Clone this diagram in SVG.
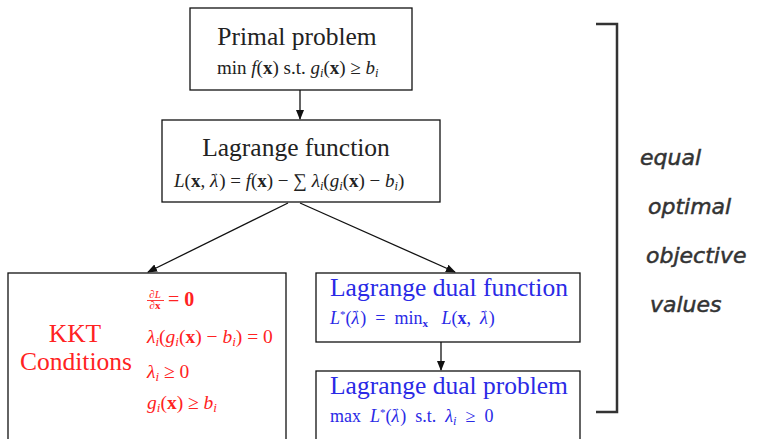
<svg xmlns="http://www.w3.org/2000/svg" width="759" height="439" viewBox="0 0 759 439">
<style>
.t{font-family:"Liberation Serif","Times New Roman",serif}
.i{font-style:italic}
.b{font-weight:bold}
.v{font-size:10px;font-style:normal}
.box{fill:#fff;stroke:#111;stroke-width:1.3}
.red{fill:#f22}
.blue{fill:#2a2ae6}
.blk{fill:#222}
.hand{font-family:"DejaVu Sans",sans-serif;font-size:22px;fill:#333;stroke:#333;stroke-width:0.5;font-style:italic}
.con{stroke:#111;stroke-width:1.3;fill:none}
</style>
<defs>
<marker id="ah" markerWidth="10" markerHeight="8" refX="9" refY="4" orient="auto" markerUnits="userSpaceOnUse">
<path d="M0,0 L10,4 L0,8 Z" fill="#111"/>
</marker>
</defs>
<rect width="759" height="439" fill="#fff"/>
<g id="primal">
<rect class="box" x="190" y="8" width="222" height="82"/>
<text class="t blk" x="297" y="45" font-size="25.5" text-anchor="middle">Primal problem</text>
<text class="t blk" x="217" y="74" font-size="19">min <tspan class="i">f</tspan>(<tspan class="b">x</tspan>) s.t. <tspan class="i">g</tspan><tspan class="i" font-size="12.5" dy="3">i</tspan><tspan dy="-3">(</tspan><tspan class="b">x</tspan>) ≥ <tspan class="i">b</tspan><tspan class="i" font-size="12.5" dy="3">i</tspan></text>
</g>
<g id="lagrange">
<rect class="box" x="162" y="120" width="278" height="82"/>
<text class="t blk" x="296" y="156" font-size="25.5" text-anchor="middle">Lagrange function</text>
<text class="t blk" x="174" y="187" font-size="19"><tspan class="i">L</tspan>(<tspan class="b">x</tspan>, <tspan class="i">λ</tspan><tspan class="v" dx="-9" dy="-11">→</tspan><tspan dy="11">) = </tspan><tspan class="i">f</tspan>(<tspan class="b">x</tspan>) − ∑ <tspan class="i">λ</tspan><tspan class="i" font-size="12.5" dy="3">i</tspan><tspan dy="-3">(</tspan><tspan class="i">g</tspan><tspan class="i" font-size="12.5" dy="3">i</tspan><tspan dy="-3">(</tspan><tspan class="b">x</tspan>) − <tspan class="i">b</tspan><tspan class="i" font-size="12.5" dy="3">i</tspan><tspan dy="-3">)</tspan></text>
</g>
<g id="kkt">
<rect class="box" x="8" y="273" width="278" height="180"/>
<text class="t red" x="75" y="342" font-size="25.5" text-anchor="middle">KKT</text>
<text class="t red" x="76" y="370" font-size="25.5" text-anchor="middle">Conditions</text>
<text class="t red i" x="155" y="298" font-size="11" text-anchor="middle">∂L</text>
<line x1="147" y1="300.5" x2="164" y2="300.5" stroke="#f22" stroke-width="0.9"/>
<text class="t red" x="155" y="309" font-size="11" text-anchor="middle">∂<tspan class="b">x</tspan></text>
<text class="t red" x="168" y="306" font-size="20">= <tspan class="b">0</tspan></text>
<text class="t red" x="147" y="343" font-size="19.5"><tspan class="i">λ</tspan><tspan class="i" font-size="13" dy="3">i</tspan><tspan dy="-3">(</tspan><tspan class="i">g</tspan><tspan class="i" font-size="13" dy="3">i</tspan><tspan dy="-3">(</tspan><tspan class="b">x</tspan>) − <tspan class="i">b</tspan><tspan class="i" font-size="13" dy="3">i</tspan><tspan dy="-3">) = 0</tspan></text>
<text class="t red" x="147" y="378" font-size="19.5"><tspan class="i">λ</tspan><tspan class="i" font-size="13" dy="3">i</tspan><tspan dy="-3"> ≥ 0</tspan></text>
<text class="t red" x="147" y="409" font-size="19.5"><tspan class="i">g</tspan><tspan class="i" font-size="13" dy="3">i</tspan><tspan dy="-3">(</tspan><tspan class="b">x</tspan>) ≥ <tspan class="i">b</tspan><tspan class="i" font-size="13" dy="3">i</tspan></text>
</g>
<g id="dualfn">
<rect class="box" x="316" y="273" width="264" height="69"/>
<text class="t blue" x="330" y="296" font-size="25.5">Lagrange dual function</text>
<text class="t blue" x="330" y="324" font-size="18"><tspan class="i">L</tspan><tspan font-size="11" dy="-6">*</tspan><tspan dy="6">(</tspan><tspan class="i">λ</tspan><tspan class="v" dx="-9" dy="-11">→</tspan><tspan dy="11">)&#160;&#160;=&#160;&#160;min</tspan><tspan class="b" font-size="11" dy="3">x</tspan><tspan dy="-3">&#160;&#160;&#160;</tspan><tspan class="i">L</tspan>(<tspan class="b">x</tspan>,&#160;&#160;<tspan class="i">λ</tspan><tspan class="v" dx="-9" dy="-11">→</tspan><tspan dy="11">)</tspan></text>
</g>
<g id="dualprob">
<rect class="box" x="316" y="371" width="264" height="80"/>
<text class="t blue" x="330" y="394" font-size="25.5">Lagrange dual problem</text>
<text class="t blue" x="330" y="422" font-size="18">max&#160;&#160;<tspan class="i">L</tspan><tspan font-size="11" dy="-6">*</tspan><tspan dy="6">(</tspan><tspan class="i">λ</tspan><tspan class="v" dx="-9" dy="-11">→</tspan><tspan dy="11">)&#160;&#160;s.t.&#160;&#160;</tspan><tspan class="i">λ</tspan><tspan class="i" font-size="12.5" dy="3">i</tspan><tspan dy="-3">&#160;&#160;≥&#160;&#160;0</tspan></text>
</g>
<g id="connectors">
<line class="con" x1="300" y1="90" x2="300" y2="119" marker-end="url(#ah)"/>
<line class="con" x1="288" y1="203" x2="148" y2="272" marker-end="url(#ah)"/>
<line class="con" x1="300" y1="203" x2="455" y2="272" stroke-width="1.8" marker-end="url(#ah)"/>
<line class="con" x1="441" y1="342" x2="441" y2="370" marker-end="url(#ah)"/>
</g>
<g id="bracket">
<path d="M596,24 H617 V412 H596" fill="none" stroke="#333" stroke-width="2.5"/>
<text class="hand" x="640" y="165">equal</text>
<text class="hand" x="648" y="214">optimal</text>
<text class="hand" x="646" y="263">objective</text>
<text class="hand" x="650" y="312">values</text>
</g>
</svg>
